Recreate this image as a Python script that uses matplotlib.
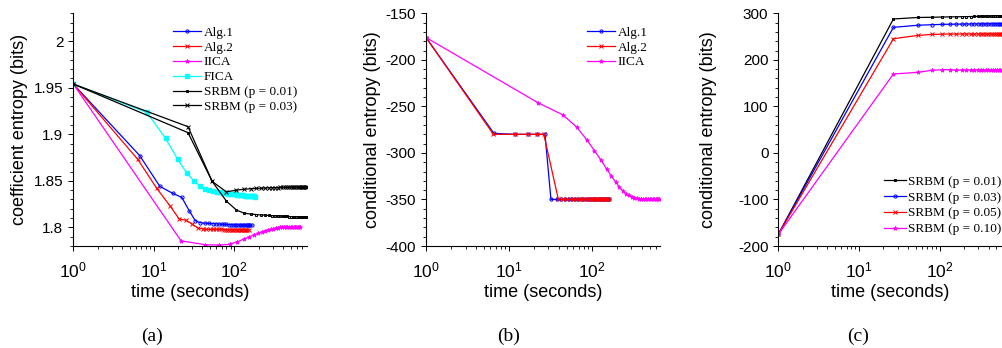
import matplotlib
matplotlib.use("Agg")
import matplotlib.pyplot as plt
from matplotlib.ticker import MultipleLocator, FormatStrFormatter, LogLocator

# ---------------- data: panel (a) coefficient entropy ----------------
a_alg1_t = [1, 6.7, 11.9, 17.1, 22.3, 27.5, 32.8, 38.0, 43.3, 48.5, 53.8, 59.0, 64.3, 69.5, 74.8, 80.0,
            85.3, 90.5, 95.8, 101.0, 106.3, 111.5, 116.8, 122.0, 127.3, 132.5, 137.8, 143.0, 148.3, 153.5, 158.8, 164.0]
a_alg1_y = [1.954, 1.877, 1.844, 1.8367, 1.8322, 1.8180, 1.8071, 1.8050, 1.8045, 1.8042, 1.8040, 1.8038, 1.8036,
            1.8034, 1.8032, 1.8031, 1.8030, 1.8029, 1.8028, 1.8027, 1.8026, 1.8026, 1.8025, 1.8025, 1.8024, 1.8024,
            1.8023, 1.8023, 1.8022, 1.8022, 1.8021, 1.8021]
a_alg2_t = [1, 6.3, 10.9, 15.9, 20.7, 25.0, 30.0, 35.0, 40.5, 44.8, 49.6, 54.4, 59.2, 64.0, 68.8, 73.6,
            78.4, 83.2, 88.0, 92.8, 97.6, 102.4, 107.2, 112.0, 116.8, 121.6, 126.4, 131.2, 136.0, 140.8, 145.6, 150.4]
a_alg2_y = [1.954, 1.8732, 1.8418, 1.8231, 1.8089, 1.8078, 1.8035, 1.7995, 1.7982, 1.7980, 1.7979, 1.7979, 1.7978,
            1.7978, 1.7978, 1.7977, 1.7977, 1.7977, 1.7977, 1.7977, 1.7976, 1.7976, 1.7976, 1.7976, 1.7976, 1.7976,
            1.7976, 1.7976, 1.7975, 1.7975, 1.7975, 1.7975]
a_iica_t = [1, 21.8, 43.6, 65.4, 87.2, 109.0, 130.8, 152.6, 174.4, 196.2, 218.0, 239.8, 261.6, 283.4, 305.2, 327.0,
            348.8, 370.6, 392.4, 414.2, 436.0, 457.8, 479.6, 501.4, 523.2, 545.0, 566.8, 588.6, 610.4, 632.2, 654.0]
a_iica_y = [1.954, 1.7855, 1.7814, 1.7810, 1.7818, 1.7845, 1.7874, 1.7898, 1.7918, 1.7935, 1.7950, 1.7962, 1.7972,
            1.7981, 1.7988, 1.7994, 1.7998, 1.8001, 1.8003, 1.8005, 1.8006, 1.8006, 1.8007, 1.8007, 1.8006, 1.8006,
            1.8005, 1.8005, 1.8004, 1.8004, 1.8003]
a_fica_t = [1, 8.2, 14.0, 19.8, 25.6, 31.4, 37.2, 43.0, 48.8, 54.6, 60.4, 66.2, 72.0, 77.8, 83.6, 89.4,
            95.2, 101.0, 106.8, 112.6, 118.4, 124.2, 130.0, 135.8, 141.6, 147.4, 153.2, 159.0, 164.8, 170.6, 176.4, 182.2]
a_fica_y = [1.954, 1.9235, 1.8956, 1.8731, 1.8585, 1.8500, 1.8445, 1.8415, 1.8398, 1.8388, 1.8381, 1.8376, 1.8371,
            1.8367, 1.8363, 1.8360, 1.8357, 1.8354, 1.8352, 1.8349, 1.8347, 1.8345, 1.8343, 1.8341, 1.8340, 1.8338,
            1.8336, 1.8335, 1.8334, 1.8333, 1.8332, 1.8331]
a_srbm_t = [1, 26.6, 53.2, 79.8, 106.4, 133.0, 159.6, 186.2, 212.8, 239.4, 266.0, 292.6, 319.2, 345.8, 372.4, 399.0,
            425.6, 452.2, 478.8, 505.4, 532.0, 558.6, 585.2, 611.8, 638.4, 665.0, 691.6, 718.2, 744.8, 771.4, 798.0]
a_srbm1_y = [1.954, 1.9018, 1.8493, 1.8282, 1.8186, 1.8152, 1.8143, 1.8138, 1.8134, 1.8131, 1.8128, 1.8126, 1.8124,
             1.8122, 1.8121, 1.8119, 1.8118, 1.8117, 1.8116, 1.8115, 1.8114, 1.8113, 1.8112, 1.8112, 1.8111, 1.8111,
             1.8110, 1.8110, 1.8109, 1.8109, 1.8108]
a_srbm3_y = [1.954, 1.9082, 1.8493, 1.8382, 1.8400, 1.8410, 1.8415, 1.8419, 1.8421, 1.8423, 1.8425, 1.8426, 1.8427,
             1.8428, 1.8429, 1.8430, 1.8430, 1.8431, 1.8431, 1.8432, 1.8432, 1.8432, 1.8433, 1.8433, 1.8433, 1.8433,
             1.8434, 1.8434, 1.8434, 1.8434, 1.8434]

# ---------------- data: panel (b) conditional entropy ----------------
b_alg1_t = [1, 6.6, 11.9, 16.8, 22.0, 27.3, 32.2, 37.6, 42.8, 48.0, 53.2, 58.4, 63.6, 68.8, 74.0, 79.2,
            84.4, 89.6, 94.8, 100.0, 105.2, 110.4, 115.6, 120.8, 126.0, 131.2, 136.4, 141.6, 146.8, 152.0, 157.2, 162.4]
b_alg1_y = [-176, -279, -280, -280, -280, -280, -350, -350, -350, -350, -350, -350, -350, -350, -350, -350,
            -350, -350, -350, -350, -350, -350, -350, -350, -350, -350, -350, -350, -350, -350, -350, -350]
b_alg2_t = [1, 6.5, 11.7, 16.8, 21.9, 26.4, 39.6, 44.6, 49.6, 54.6, 59.6, 64.6, 69.6, 74.6, 79.6, 84.6,
            89.6, 94.6, 99.6, 104.6, 109.6, 114.6, 119.6, 124.6, 129.6, 134.6, 139.6, 144.6, 149.6, 154.6, 159.6]
b_alg2_y = [-176, -280, -280, -280, -280, -280, -350, -350, -350, -350, -350, -350, -350, -350, -350, -350,
            -350, -350, -350, -350, -350, -350, -350, -350, -350, -350, -350, -350, -350, -350, -350]
b_iica_t = [1, 22.7, 44.7, 65.9, 87.0, 108.0, 130.0, 151.0, 173.0, 194.0, 216.0, 238.0, 260.0, 282.0, 304.0, 326.0,
            348.0, 370.0, 392.0, 414.0, 436.0, 458.0, 480.0, 502.0, 524.0, 546.0, 568.0, 590.0, 612.0, 634.0, 656.0]
b_iica_y = [-176, -246.3, -259.0, -272.3, -285.8, -297.6, -308.0, -317.0, -325.0, -331.0, -336.8, -340.8, -343.6,
            -345.6, -347.0, -347.9, -348.6, -349.0, -349.3, -349.5, -349.7, -349.8, -349.9, -350.0, -350.0, -350.0,
            -350.0, -350.0, -350.0, -350.0, -350.0]

# ---------------- data: panel (c) conditional entropy, SRBM ----------------
c_t = [1, 26.6, 53.2, 79.8, 106.4, 133.0, 159.6, 186.2, 212.8, 239.4, 266.0, 292.6, 319.2, 345.8, 372.4, 399.0,
       425.6, 452.2, 478.8, 505.4, 532.0, 558.6, 585.2, 611.8, 638.4, 665.0, 691.6, 718.2, 744.8, 771.4, 798.0]
c_p01_y = [-175, 287.8, 291.0, 291.5, 292.0, 292.3, 292.5, 292.7, 292.9, 293.0, 293.2, 293.3, 293.4, 293.5, 293.6,
           293.7, 293.8, 293.9, 294.0, 294.1, 294.2, 294.3, 294.4, 294.5, 294.6, 294.7, 294.8, 294.9, 295.0, 295.0, 295.1]
c_p03_y = [-175, 269.9, 274.3, 275.5, 276.2, 276.5, 276.7, 276.8, 276.9, 277.0, 277.0, 277.1, 277.1, 277.2, 277.2,
           277.2, 277.3, 277.3, 277.3, 277.3, 277.3, 277.3, 277.3, 277.3, 277.3, 277.3, 277.3, 277.3, 277.3, 277.3, 277.3]
c_p05_y = [-175, 245.4, 252.5, 254.6, 255.2, 255.4, 255.5, 255.5, 255.5, 255.5, 255.5, 255.5, 255.5, 255.5, 255.5,
           255.5, 255.5, 255.5, 255.5, 255.5, 255.5, 255.5, 255.5, 255.5, 255.5, 255.5, 255.5, 255.5, 255.5, 255.5, 255.5]
c_p10_y = [-175, 169.6, 173.2, 177.5, 178.8, 179.0, 177.5, 178.2, 177.6, 178.8, 177.9, 178.6, 178.0, 179.0, 177.8,
           178.5, 178.1, 178.9, 177.7, 178.6, 178.2, 178.8, 177.9, 178.5, 178.1, 178.7, 178.0, 178.6, 178.2, 178.5, 178.3]

panel_tags = ["(a)", "(b)", "(c)"]
ylabels = ["coefficient entropy (bits)", "conditional entropy (bits)", "conditional entropy (bits)"]
xlabel = "time (seconds)"

# ---------------- figure ----------------
plt.rcParams['font.family'] = ['Liberation Sans', 'DejaVu Sans']
W, H = 1002, 348
fig = plt.figure(figsize=(W / 100, H / 100), dpi=100)

def px_axes(left, top, right, bottom):
    return fig.add_axes([left / W, 1 - bottom / H, (right - left) / W, (bottom - top) / H])

axa = px_axes(73.3, 13.3, 306.6, 246)
axb = px_axes(426.0, 13.3, 660.0, 246)
axc = px_axes(778.3, 13.3, 1002.0, 246)

lw = 0.9
st_o = dict(marker='o', ms=2.3, mfc='none', mew=0.7)
st_x = dict(marker='x', ms=2.4, mew=0.7)
st_s = dict(marker='s', ms=2.1, mfc='none', mew=0.7)
st_star = dict(marker='*', ms=3.2, mew=0.5)

axa.plot(a_alg1_t, a_alg1_y, color='#0000ff', lw=lw, label='Alg.1', **st_o)
axa.plot(a_alg2_t, a_alg2_y, color='#ff0000', lw=lw, label='Alg.2', **st_x)
axa.plot(a_iica_t, a_iica_y, color='#ff00ff', lw=lw, label='IICA', **st_star)
axa.plot(a_fica_t, a_fica_y, color='#00ffff', lw=lw, label='FICA', marker='s', ms=2.3)
axa.plot(a_srbm_t, a_srbm1_y, color='black', lw=lw, label='SRBM (p = 0.01)', **st_s)
axa.plot(a_srbm_t, a_srbm3_y, color='black', lw=lw, label='SRBM (p = 0.03)', **st_x)

axb.plot(b_alg1_t, b_alg1_y, color='#0000ff', lw=lw, label='Alg.1', **st_o)
axb.plot(b_alg2_t, b_alg2_y, color='#ff0000', lw=lw, label='Alg.2', **st_x)
axb.plot(b_iica_t, b_iica_y, color='#ff00ff', lw=lw, label='IICA', **st_star)

axc.plot(c_t, c_p01_y, color='black', lw=lw, label='SRBM (p = 0.01)', **st_s)
axc.plot(c_t, c_p03_y, color='#0000ff', lw=lw, label='SRBM (p = 0.03)', **st_o)
axc.plot(c_t, c_p05_y, color='#ff0000', lw=lw, label='SRBM (p = 0.05)', **st_x)
axc.plot(c_t, c_p10_y, color='#ff00ff', lw=lw, label='SRBM (p = 0.10)', **st_star)

axa.set_xlim(1, 791); axa.set_ylim(1.78, 2.03)
axb.set_xlim(1, 667); axb.set_ylim(-400, -150)
axc.set_xlim(1, 587); axc.set_ylim(-200, 300)

axa.yaxis.set_major_locator(MultipleLocator(0.05)); axa.yaxis.set_minor_locator(MultipleLocator(0.01))
axb.yaxis.set_major_locator(MultipleLocator(50)); axb.yaxis.set_minor_locator(MultipleLocator(10))
axc.yaxis.set_major_locator(MultipleLocator(100)); axc.yaxis.set_minor_locator(MultipleLocator(20))

for i, ax in enumerate([axa, axb, axc]):
    ax.set_xscale('log')
    ax.xaxis.set_major_locator(LogLocator(base=10, numticks=10))
    ax.xaxis.set_minor_locator(LogLocator(base=10, subs=range(2, 10), numticks=10))
    ax.yaxis.set_major_formatter(FormatStrFormatter('%g'))
    ax.spines['top'].set_visible(False)
    ax.spines['right'].set_visible(False)
    ax.spines['left'].set_linewidth(0.8)
    ax.spines['bottom'].set_linewidth(0.8)
    ax.tick_params(which='major', direction='out', length=3.6, width=0.7)
    ax.tick_params(which='minor', direction='out', length=1.9, width=0.6)
    ax.tick_params(axis='y', which='major', labelsize=11, pad=3.5)
    ax.tick_params(axis='x', which='major', labelsize=12.5, pad=6.5)
    ax.set_xlabel(xlabel, fontsize=13, va='center')
    ax.xaxis.set_label_coords(0.5, -0.2)
    ax.set_ylabel(ylabels[i], fontsize=13, va='center')

axa.yaxis.set_label_coords((20 - 73.3) / 233.3, 0.5)
axb.yaxis.set_label_coords((372.5 - 426) / 234.0, 0.5)
axc.yaxis.set_label_coords((708.3 - 778.3) / 223.7, 0.5)

leg_font = {'family': 'Liberation Serif', 'size': 9.5}
common = dict(frameon=False, borderpad=0, borderaxespad=0, prop=leg_font, handletextpad=0.2,
              labelspacing=0.2, loc='upper left', bbox_transform=fig.transFigure, numpoints=1)
axa.legend(bbox_to_anchor=(173.3 / W, 1 - 26.5 / H), handlelength=2.1, **common)
axb.legend(bbox_to_anchor=(586.7 / W, 1 - 26.5 / H), handlelength=2.15, **common)
axc.legend(bbox_to_anchor=(884.0 / W, 1 - 175.5 / H), handlelength=1.65,
           **{**common, 'labelspacing': 0.27})

for tag, xc in zip(panel_tags, [151.7, 508.3, 858.3]):
    fig.text(xc / W, 1 - 336.7 / H, tag, ha='center', va='center',
             family='Liberation Serif', fontsize=14)

fig.savefig('out.png', dpi=100)
